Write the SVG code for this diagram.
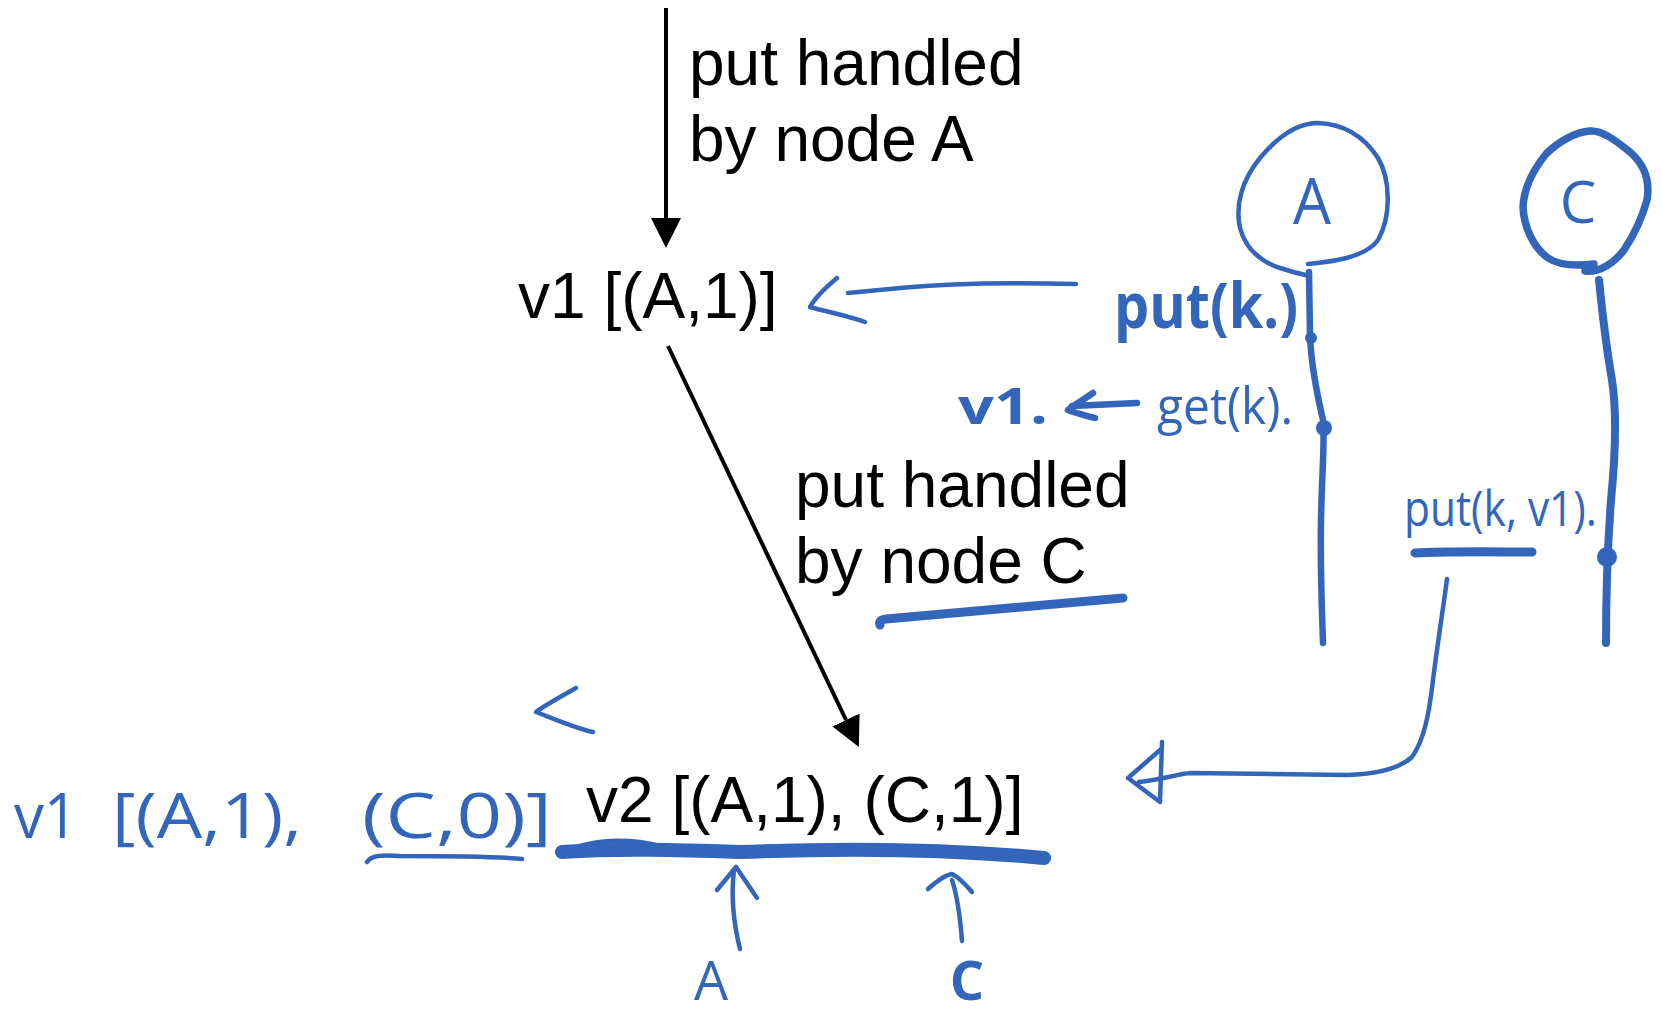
<svg xmlns="http://www.w3.org/2000/svg" width="1662" height="1018" viewBox="0 0 1662 1018">
  <defs>
    <marker id="head" viewBox="0 0 10 10" refX="0" refY="5" markerWidth="7.5" markerHeight="7.5" orient="auto">
      <path d="M0,0 L10,5 L0,10 z" fill="#000"/>
    </marker>
    <style>
      .label { font-family: "Liberation Sans", Arial, Helvetica, sans-serif; font-size: 64px; fill: #000; }
      .edge { stroke: #000; stroke-width: 4; fill: none; }
      .ink { stroke: #3366bb; fill: none; stroke-linecap: round; stroke-linejoin: round; }
      .thin { stroke-width: 4.5; }
      .mid { stroke-width: 6.5; }
      .bold { stroke-width: 9; }
      .dot { fill: #3366bb; }
      .hand { font-family: "Open Sans", "Liberation Sans", sans-serif; fill: #3366bb; font-weight: 400; }
      .hand-b { font-family: "Open Sans", "Liberation Sans", sans-serif; fill: #3366bb; font-weight: 700; }
    </style>
  </defs>
  <rect width="1662" height="1018" fill="#fff"/>

  <!-- typed states and labels -->
  <g id="label-put-a">
    <text class="label" x="689" y="85">put handled</text>
    <text class="label" x="689" y="161">by node A</text>
  </g>
  <g id="state-v1">
    <text class="label" x="518" y="318">v1 [(A,1)]</text>
  </g>
  <g id="label-put-c">
    <text class="label" x="795" y="507">put handled</text>
    <text class="label" x="795" y="583">by node C</text>
  </g>
  <g id="state-v2">
    <text class="label" x="586" y="822">v2 [(A,1), (C,1)]</text>
  </g>

  <!-- replica A with its timeline -->
  <g id="replica-a">
    <path class="ink thin" d="M1308,264 C1330,262 1365,258 1378,240 C1392,215 1390,178 1378,158 C1365,138 1345,124 1318,123 C1295,123 1275,140 1260,158 C1242,180 1235,205 1240,228 C1246,250 1262,262 1280,268 C1292,272 1300,274 1310,276"/>
    <text class="hand" x="1312" y="224" font-size="64" text-anchor="middle" textLength="38" lengthAdjust="spacingAndGlyphs">A</text>
    <path class="ink mid" d="M1309,272 L1310,336 C1311,360 1316,390 1323,420 C1325,440 1322,470 1321,520 C1320,570 1322,610 1323,643"/>
    <circle class="dot" cx="1311" cy="338" r="6"/>
    <circle class="dot" cx="1324" cy="428" r="8"/>
  </g>

  <!-- replica C with its timeline -->
  <g id="replica-c">
    <path class="ink" stroke-width="7.5" d="M1585,271 C1600,273 1615,262 1624,250 C1634,235 1642,218 1647,200 C1650,182 1645,165 1630,152 C1615,140 1602,130 1590,131 C1575,132 1558,142 1546,154 C1533,170 1524,188 1523,207 C1524,228 1534,248 1548,258 C1560,266 1578,266 1594,264"/>
    <text class="hand" x="1578" y="223" font-size="58" text-anchor="middle">C</text>
    <path class="ink" stroke-width="8" d="M1599,280 C1601,300 1605,340 1612,380 C1618,420 1614,470 1611,500 C1608,540 1606,600 1606,643"/>
    <circle class="dot" cx="1607" cy="557" r="10"/>
  </g>

  <!-- operations written beside the timelines -->
  <g id="op-put-a">
    <text class="hand-b" x="1114" y="328" font-size="62" textLength="184" lengthAdjust="spacingAndGlyphs">put(k.)</text>
  </g>
  <g id="op-get">
    <text class="hand-b" x="958" y="424" font-size="50" textLength="90" lengthAdjust="spacingAndGlyphs">v1.</text>
    <text class="hand" x="1157" y="424" font-size="52" textLength="136" lengthAdjust="spacingAndGlyphs">get(k).</text>
  </g>
  <g id="op-put-c">
    <text class="hand" x="1404" y="526" font-size="50" textLength="193" lengthAdjust="spacingAndGlyphs">put(k, v1).</text>
  </g>
  <g id="merged-clock">
    <text class="hand" x="14" y="838" font-size="62" textLength="64" lengthAdjust="spacingAndGlyphs">v1</text>
    <text class="hand" x="112" y="838" font-size="62" textLength="190" lengthAdjust="spacingAndGlyphs">[(A,1),</text>
    <text class="hand" x="362" y="838" font-size="62" textLength="190" lengthAdjust="spacingAndGlyphs">(C,0)]</text>
  </g>
  <g id="tag-a">
    <text class="hand" x="711" y="1000" font-size="54" text-anchor="middle">A</text>
  </g>
  <g id="tag-c">
    <text class="hand-b" x="967" y="1000" font-size="54" text-anchor="middle">C</text>
  </g>

  <g id="connectors">
    <!-- version history arrows -->
    <line class="edge" x1="666" y1="8" x2="666" y2="218" marker-end="url(#head)"/>
    <line class="edge" x1="668" y1="346" x2="846" y2="720" marker-end="url(#head)"/>

    <!-- put(k.) returns v1 -->
    <path class="ink thin" d="M1076,284 C1000,282 950,283 900,288 C880,290 860,292 848,293"/>
    <path class="ink thin" d="M837,278 C825,288 815,298 810,307 C828,312 848,316 865,322"/>

    <!-- get(k) returns v1 -->
    <path class="ink mid" d="M1137,403 L1072,406"/>
    <path class="ink mid" d="M1093,393 C1083,400 1072,406 1068,410 C1078,414 1088,416 1095,418"/>

    <!-- comparison sign between clocks -->
    <path class="ink thin" d="M576,688 C560,697 545,705 536,712 C552,718 575,728 593,732"/>

    <!-- put(k, v1) produces v2 -->
    <path class="ink thin" d="M1447,579 C1443,610 1438,640 1433,680 C1429,715 1424,740 1412,757 C1400,768 1380,774 1347,775 L1190,773 C1178,774 1160,780 1139,782"/>
    <path class="ink thin" d="M1160,750 L1128,778 L1160,802 M1162,742 L1160,802"/>

    <!-- underlines -->
    <path class="ink bold" d="M880,625 Q878,620 886,619 L1123,598"/>
    <path class="ink bold" d="M1415,553 C1450,551 1500,552 1532,552"/>
    <path class="ink thin" d="M367,862 C372,855 380,855 400,856 C450,856 500,857 522,859"/>
    <path class="ink" stroke-width="14" d="M562,852 C620,848 680,850 740,852 C840,848 940,848 1044,858"/>
    <path class="ink thin" d="M580,846 C600,840 630,838 660,846"/>

    <!-- entry markers under v2 -->
    <path class="ink thin" d="M740,949 C734,925 731,895 734,870"/>
    <path class="ink thin" d="M717,890 L736,867 L757,898"/>
    <path class="ink thin" d="M962,941 C960,915 957,895 952,880"/>
    <path class="ink thin" d="M928,889 C938,880 945,875 952,874 C960,878 966,885 972,892"/>
  </g>
</svg>
